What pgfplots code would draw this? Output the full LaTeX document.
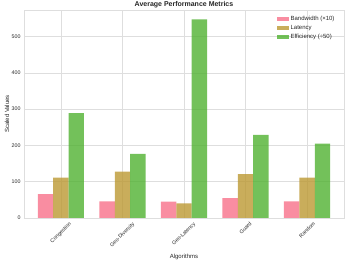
\documentclass[border=0pt]{standalone}
\usepackage{graphicx}
\usepackage{fontspec}
\setmainfont{Liberation Sans}
\usepackage{pgfplots}
\pgfplotsset{compat=1.18}
\definecolor{cpink}{HTML}{F77189}
\definecolor{ctan}{HTML}{BB9832}
\definecolor{cgreen}{HTML}{50B131}
\definecolor{gridc}{RGB}{222,222,222}
\definecolor{txt}{RGB}{38,38,38}
\newcommand{\rl}[1]{\rotatebox{45}{#1}}
\begin{document}
\begin{tikzpicture}
\begin{axis}[
  name=ax,
  at={(0,0)}, anchor=south west,
  scale only axis,
  width=320pt, height=208pt,
  xmin=-0.6, xmax=4.6,
  ymin=0, ymax=573,
  xtick={0,1,2,3,4},
  xticklabels={\rl{Congestion},\rl{Geo-Diversity},\rl{Geo-Latency},\rl{Guard},\rl{Random}},
  ytick={0,100,200,300,400,500},
  /pgf/number format/assume math mode=true,
  tick label style={font=\fontsize{5.3}{6}\selectfont, text=txt},
  xticklabel style={anchor=north, inner sep=0pt, yshift=-3.5pt},
  yticklabel style={inner sep=0pt, xshift=-3.3pt},
  major tick length=0pt,
  grid=major,
  major grid style={gridc, line width=0.45pt},
  axis line style={gridc, line width=0.5pt},
  title={\bfseries Average Performance Metrics},
  every axis title shift=0pt,
  title style={at={(axis description cs:0.5,1.0144)}, anchor=base, font=\fontsize{7}{8}\selectfont, text=txt, inner sep=0pt},
  xlabel={Algorithms},
  ylabel={Scaled Values},
  every axis x label/.style={at={(axis description cs:0.5,-0.186)}, anchor=center, font=\fontsize{6}{7}\selectfont, text=txt},
  every axis y label/.style={at={(axis description cs:-0.053,0.5)}, rotate=90, anchor=center, font=\fontsize{6}{7}\selectfont, text=txt},
  ybar, bar width=0.25,
  legend style={draw=none, fill=none, at={(axis description cs:0.985,0.985)}, anchor=north east,
    font=\fontsize{6}{7}\selectfont, text=txt, row sep=1.8pt,
    nodes={inner xsep=1.5pt, inner ysep=0.8pt}},
  legend cell align=left,
  legend image code/.code={\path[#1, draw=none] (0pt,-2.1pt) rectangle (12pt,2.1pt);},
]
\addplot[fill=cpink, fill opacity=0.8, draw=none, bar shift=-0.25] coordinates {(0,65.6) (1,46) (2,45) (3,54.5) (4,46)};
\addlegendentry{Bandwidth (×10)}
\addplot[fill=ctan, fill opacity=0.8, draw=none, bar shift=0] coordinates {(0,111.5) (1,128) (2,40) (3,120.7) (4,111.5)};
\addlegendentry{Latency}
\addplot[fill=cgreen, fill opacity=0.8, draw=none, bar shift=0.25] coordinates {(0,289) (1,176.6) (2,547) (3,229) (4,205)};
\addlegendentry{Efficiency (÷50)}
\end{axis}
\pgfresetboundingbox
\path (-24pt,-44pt) rectangle (325pt,218pt);
\end{tikzpicture}
\end{document}
